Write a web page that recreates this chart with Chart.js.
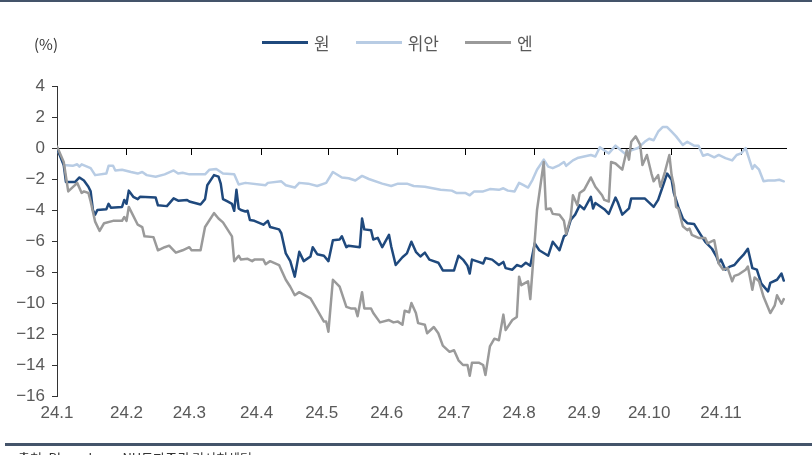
<!DOCTYPE html>
<html>
<head>
<meta charset="utf-8">
<script src="https://cdn.jsdelivr.net/npm/chart.js@4.4.0/dist/chart.umd.min.js"></script>
<style>
    body { margin: 0; background: #fff; overflow: hidden; }
    #wrap { position: relative; width: 812px; height: 455px; overflow: hidden; font-family: "Noto Sans CJK KR", "Noto Sans", sans-serif; }
    #topLine { position: absolute; left: 0; top: 0; width: 812px; height: 2px; background: #44546a; }
    #bottomLine { position: absolute; left: 5px; top: 443px; width: 807px; height: 3px; background: #44546a; }
    #unit { position: absolute; left: 34px; top: 33px; font-size: 15px; color: #333; }
    #legend { position: absolute; left: 262px; top: 30px; display: flex; align-items: center; font-size: 17px; color: #595959; }
    .item { display: flex; align-items: center; margin-right: 26px; }
    .swatch { width: 46px; height: 3px; margin-right: 6px; }
    #source { position: absolute; left: 18px; top: 448px; font-size: 13px; color: #333; }
    #chartBox { position: absolute; left: 0; top: 0; width: 812px; height: 455px; }
</style>
</head>
<body>
<div id="wrap">
    <div id="chartBox"><canvas id="myLineChart"></canvas></div>
    <div id="topLine"></div>
    <div id="unit">(%)</div>
    <div id="legend"></div>
    <div id="bottomLine"></div>
    <div id="source">출처: Bloomberg, NH투자증권 리서치센터</div>
</div>
<script>
// 일수: 2024.1.1 기준 경과일
const monthStarts = [0, 31, 60, 91, 121, 152, 182, 213, 244, 274, 305];
// 라벨은 눈금과 약간 어긋나게 배치되어 있음
const labelDays = [0, 31, 59, 89, 118, 147, 177, 206, 235, 264, 296];
const monthLabels = ['24.1', '24.2', '24.3', '24.4', '24.5', '24.6', '24.7', '24.8', '24.9', '24.10', '24.11'];
const yTicks = [4, 2, 0, -2, -4, -6, -8, -10, -12, -14, -16];

const seriesNames = ['원', '위안', '엔'];
const seriesColors = ['#1f497d', '#b8cce4', '#9a9a9a'];

// 원
const wonDays = [0, 3, 4, 8, 10, 12, 14, 15, 16, 17, 18, 22, 23, 24, 29, 30, 31, 32, 34, 36, 37, 44, 45, 49, 52, 54, 58, 59, 64, 66, 67, 70, 72, 73, 74, 76, 78, 79, 80, 81, 82, 84, 85, 86, 88, 92, 94, 95, 99, 100, 102, 104, 106, 108, 110, 113, 114, 116, 119, 121, 123, 126, 127, 129, 130, 135, 136, 137, 140, 141, 143, 145, 148, 149, 151, 154, 156, 158, 160, 162, 164, 166, 170, 172, 177, 179, 181, 183, 184, 185, 188, 190, 191, 194, 197, 199, 200, 203, 205, 207, 209, 211, 213, 215, 219, 221, 224, 226, 227, 229, 231, 233, 235, 238, 239, 240, 244, 246, 249, 250, 252, 255, 256, 262, 266, 268, 270, 272, 274, 275, 277, 279, 281, 284, 287, 289, 292, 294, 295, 296, 298, 300, 302, 304, 306, 308, 310, 312, 314, 317, 318, 321, 323, 324];
const wonValues = [0, -1.1, -2.2, -2.2, -1.9, -2.1, -2.5, -2.8, -4.0, -4.3, -4.0, -3.95, -3.6, -3.85, -3.8, -3.35, -3.6, -2.75, -3.15, -3.3, -3.15, -3.2, -3.7, -3.75, -3.25, -3.4, -3.35, -3.45, -3.65, -3.3, -2.4, -1.75, -1.85, -2.3, -3.3, -3.45, -3.6, -4.05, -2.7, -3.9, -4.0, -4.1, -4.05, -4.65, -4.7, -4.95, -4.7, -5.1, -5.25, -5.5, -6.8, -7.3, -8.3, -6.7, -7.3, -7.0, -6.4, -6.85, -6.95, -7.3, -5.95, -5.9, -5.7, -6.4, -6.3, -6.4, -4.55, -5.25, -5.3, -5.9, -5.8, -6.4, -5.6, -6.35, -7.55, -7.05, -6.8, -6.05, -6.7, -7.0, -6.75, -7.2, -7.4, -7.9, -7.9, -6.95, -7.2, -7.6, -8.1, -7.2, -7.35, -7.45, -7.1, -7.2, -7.55, -7.35, -7.75, -7.85, -7.55, -7.65, -7.4, -7.6, -6.15, -6.6, -6.95, -6.05, -6.6, -5.7, -5.6, -4.65, -4.3, -3.7, -3.95, -3.15, -3.9, -3.55, -3.95, -4.25, -3.2, -3.5, -4.3, -3.9, -3.25, -3.25, -3.8, -3.35, -2.5, -1.65, -2.05, -2.9, -3.8, -4.55, -4.85, -4.9, -5.6, -6.05, -6.5, -7.0, -7.4, -7.2, -7.85, -7.65, -7.55, -7.2, -6.9, -6.5, -7.75, -7.85, -8.75, -9.25, -8.7, -8.5, -8.1, -8.55];

// 위안
const yuanDays = [0, 3, 7, 9, 10, 11, 15, 17, 22, 23, 25, 26, 29, 33, 36, 38, 40, 44, 48, 52, 54, 56, 59, 66, 68, 71, 74, 79, 81, 84, 93, 94, 100, 102, 106, 108, 112, 116, 120, 123, 127, 130, 133, 136, 139, 145, 149, 152, 156, 159, 164, 171, 176, 178, 182, 184, 186, 190, 193, 197, 199, 201, 204, 206, 208, 210, 212, 214, 217, 219, 221, 224, 226, 227, 230, 232, 235, 238, 240, 242, 246, 249, 251, 253, 256, 259, 262, 264, 266, 268, 270, 272, 274, 276, 279, 281, 284, 286, 288, 290, 293, 295, 298, 301, 303, 305, 307, 310, 311, 313, 315, 317, 320, 322, 324];
const yuanValues = [0, -1.1, -1.15, -1.05, -1.2, -1.05, -1.3, -1.75, -1.65, -1.15, -1.15, -1.45, -1.4, -1.55, -1.65, -1.55, -1.75, -1.85, -1.7, -1.45, -1.65, -1.6, -1.7, -1.7, -1.4, -1.35, -1.65, -1.7, -2.35, -2.25, -2.4, -2.25, -2.15, -2.4, -2.55, -2.25, -2.3, -2.45, -2.25, -1.55, -1.9, -1.95, -2.1, -1.8, -2.0, -2.3, -2.45, -2.3, -2.3, -2.45, -2.5, -2.7, -2.75, -2.9, -2.9, -3.05, -2.8, -2.8, -2.65, -2.7, -2.6, -2.75, -2.8, -2.25, -2.4, -2.55, -2.05, -1.4, -0.75, -1.2, -1.3, -1.1, -0.9, -1.15, -0.8, -0.65, -0.55, -0.45, -0.55, 0.05, -0.35, 0.15, -0.1, -0.35, -0.15, 0, 0.4, 0.6, 0.5, 1.05, 1.35, 1.35, 1.05, 0.75, 0.2, 0.4, 0.15, 0.15, -0.5, -0.4, -0.6, -0.45, -0.65, -0.8, -0.45, -0.35, 0, -1.35, -1.1, -1.4, -2.15, -2.1, -2.1, -2.05, -2.15];

// 엔
const yenDays = [0, 3, 5, 8, 9, 11, 12, 14, 15, 17, 19, 21, 25, 29, 30, 31, 32, 36, 38, 39, 43, 45, 48, 50, 52, 53, 56, 59, 60, 64, 66, 70, 72, 74, 78, 79, 81, 82, 85, 87, 88, 92, 93, 95, 99, 102, 104, 106, 108, 113, 116, 119, 120, 121, 123, 126, 129, 131, 133, 134, 136, 137, 140, 141, 144, 148, 150, 152, 154, 155, 157, 158, 160, 161, 164, 165, 168, 170, 172, 175, 177, 179, 181, 183, 184, 185, 188, 190, 191, 193, 195, 197, 199, 200, 203, 205, 206, 207, 210, 211, 213, 214, 217, 218, 220, 221, 224, 226, 227, 229, 230, 232, 233, 235, 238, 240, 243, 244, 246, 247, 249, 252, 254, 255, 256, 258, 260, 261, 263, 265, 266, 268, 269, 271, 273, 274, 275, 276, 277, 279, 281, 282, 283, 286, 289, 290, 293, 295, 297, 299, 301, 302, 304, 307, 308, 310, 311, 313, 315, 318, 320, 321, 323, 324];
const yenValues = [0.1, -0.9, -2.8, -2.4, -2.25, -2.9, -2.8, -2.9, -3.45, -4.75, -5.35, -4.85, -4.7, -4.7, -4.45, -4.7, -3.8, -4.95, -5.1, -5.7, -5.75, -6.6, -6.4, -6.3, -6.6, -6.75, -6.6, -6.4, -6.6, -6.6, -5.1, -4.2, -4.55, -4.8, -5.7, -7.3, -6.95, -7.2, -7.15, -7.3, -7.2, -7.2, -7.5, -7.3, -7.55, -8.5, -8.95, -9.5, -9.3, -9.7, -10.45, -11.2, -11.2, -11.85, -8.5, -8.95, -10.25, -10.35, -10.35, -10.85, -9.3, -10.35, -10.35, -10.65, -11.25, -11.1, -11.25, -11.2, -11.4, -10.5, -10.6, -10.0, -10.65, -11.3, -11.4, -11.95, -11.55, -11.95, -12.75, -13.15, -13.05, -13.7, -14.0, -14.0, -14.7, -13.85, -13.85, -14.0, -14.65, -12.8, -12.3, -12.4, -10.75, -11.75, -11.1, -10.9, -8.3, -8.85, -8.6, -9.75, -5.95, -4.0, -0.9, -3.95, -3.9, -4.25, -4.3, -4.7, -5.55, -4.5, -3.05, -3.7, -2.9, -2.7, -1.9, -2.5, -3.05, -3.35, -3.45, -0.9, -1.0, -1.4, -0.15, -0.75, 0.4, 0.75, 0.2, -1.1, -0.45, -1.65, -2.15, -1.75, -2.5, -1.55, -0.45, -1.75, -2.4, -3.8, -3.9, -5.05, -5.3, -5.2, -5.6, -5.8, -5.8, -6.15, -5.95, -7.45, -7.85, -7.75, -8.6, -8.25, -8.15, -7.85, -7.65, -9.15, -8.35, -8.6, -9.6, -10.65, -10.15, -9.5, -10.05, -9.75];

const dayMax = 325;

function toPoints(days, values) {
    return days.map((d, i) => ({ x: d, y: values[i] }));
}

function buildLegend() {
    const box = document.getElementById('legend');
    seriesNames.forEach((name, i) => {
        const item = document.createElement('div');
        item.className = 'item';
        item.innerHTML = '<div class="swatch" style="background:' + seriesColors[i] + '"></div><span>' + name + '</span>';
        box.appendChild(item);
    });
}

buildLegend();

const ctx = document.getElementById('myLineChart').getContext('2d');
const myLineChart = new Chart(ctx, {
    type: 'line',
    data: {
        datasets: [
            { label: seriesNames[0], data: toPoints(wonDays, wonValues), borderColor: seriesColors[0], order: 2 },
            { label: seriesNames[1], data: toPoints(yuanDays, yuanValues), borderColor: seriesColors[1], order: 3 },
            { label: seriesNames[2], data: toPoints(yenDays, yenValues), borderColor: seriesColors[2], order: 1 }
        ]
    },
    options: {
        responsive: true,
        maintainAspectRatio: false,
        animation: false,
        devicePixelRatio: 1,
        layout: { padding: { top: 86, right: 26, bottom: 29, left: 0 } },
        elements: {
            line: { borderWidth: 2.5, tension: 0, borderJoinStyle: 'round', borderCapStyle: 'round' },
            point: { radius: 0 }
        },
        plugins: {
            legend: { display: false },
            tooltip: { enabled: false }
        },
        scales: {
            // 하단 라벨 전용 축
            x: {
                type: 'linear',
                position: 'bottom',
                min: 0,
                max: dayMax,
                afterBuildTicks: scale => { scale.ticks = labelDays.map(v => ({ value: v })); },
                afterFit: scale => { scale.height = 30; },
                grid: { display: false, drawTicks: false },
                border: { display: false },
                ticks: {
                    autoSkip: false,
                    maxRotation: 0,
                    padding: 7,
                    color: '#595959',
                    font: { family: 'Liberation Sans', size: 17 },
                    callback: value => monthLabels[labelDays.indexOf(value)]
                }
            },
            // 0 위치의 가로축 (월 시작 눈금)
            x2: {
                type: 'linear',
                position: { y: 0 },
                min: 0,
                max: dayMax,
                afterBuildTicks: scale => { scale.ticks = monthStarts.map(v => ({ value: v })); },
                grid: { drawOnChartArea: false, drawTicks: true, tickLength: 6, color: '#000', lineWidth: 1 },
                border: { display: true, color: '#000', width: 1 },
                ticks: { display: false }
            },
            y: {
                min: -16,
                max: 4,
                afterBuildTicks: scale => { scale.ticks = yTicks.map(v => ({ value: v })); },
                afterFit: scale => { scale.width = 57; },
                grid: { drawOnChartArea: false, drawTicks: true, tickLength: 5, color: '#333', lineWidth: 1 },
                border: { display: true, color: '#333', width: 1 },
                ticks: {
                    padding: 7,
                    color: '#595959',
                    font: { family: 'Liberation Sans', size: 17 },
                    callback: value => (value < 0 ? '\u2212' + Math.abs(value) : String(value))
                }
            }
        }
    }
});
</script>
</body>
</html>
